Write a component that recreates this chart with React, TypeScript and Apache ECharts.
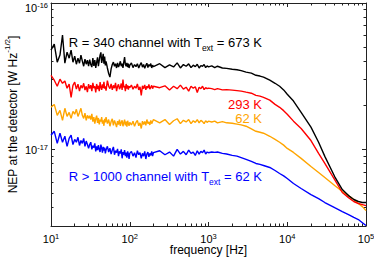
import React, { useEffect, useRef } from "react";
import * as echarts from "echarts";

// Frequency grid [Hz]
const FREQ = [
  10, 11, 12, 13, 14, 15, 16, 17, 18, 19, 20, 21, 22, 23, 24, 25, 26, 27, 28, 29, 30,
  31, 32, 33, 34, 35, 36, 37, 38, 39, 40, 41, 42, 43, 44, 45, 46, 47, 48, 49, 50,
  52, 54, 56, 58, 60, 62, 64, 66, 68, 70, 72, 74, 76, 78, 80, 82, 84, 86, 88, 90, 92, 94, 96, 98, 100,
  105, 110, 115, 120, 125, 130, 135, 140, 145, 150, 155, 160, 165, 170, 175, 180, 185, 190, 195, 200,
  240, 280, 320, 360, 400, 440, 480, 520, 560, 600, 640, 680, 720, 760, 800, 840, 880, 920, 960, 1000,
  1100, 1200, 1300, 1500, 1700, 2000, 2300, 2600, 3000, 3500, 4000, 4500, 5000, 6000, 7000, 8000, 9000, 10000,
  12000, 15000, 20000, 25000, 30000, 40000, 50000, 60000, 70000, 80000, 90000, 100000,
];

// NEP values in units of 1e-17 W Hz^-1/2
const NEP_R340_673K = [
  4.77, 5.24, 3.94, 4.41, 6.04, 3.88, 4.62, 4.2, 4.77, 3.94, 4.34, 3.82, 4.2, 3.88, 4.41, 4.01, 3.7, 4.14, 3.82, 4.07, 3.7,
  4.1, 3.8, 3.65, 4.2, 3.72, 4.07, 3.6, 3.95, 4.25, 3.7, 4.05, 4.4, 4.6, 3.9, 4.15, 4.5, 3.85, 4.3, 3.75, 4.0,
  3.6, 3.3, 3.12, 3.55, 3.8, 3.95, 3.7, 3.85, 3.6, 3.9, 3.65, 3.8, 4.0, 3.7, 3.85, 3.6, 3.95, 4.27, 3.8, 3.7, 3.9, 3.65, 3.85, 3.6, 3.75,
  3.9, 3.62, 3.8, 3.68, 3.85, 3.6, 3.78, 3.92, 3.65, 3.8, 3.58, 3.75, 3.88, 3.62, 3.8, 3.7, 3.86, 3.6, 3.76, 3.68,
  3.85, 3.62, 3.78, 3.66, 3.9, 3.6, 3.8, 3.7, 3.84, 3.62, 3.76, 3.68, 3.82, 3.6, 3.74, 3.7, 3.8, 3.62, 3.72, 3.66,
  3.72, 3.62, 3.7, 3.6, 3.58, 3.53, 3.5, 3.45, 3.37, 3.32, 3.21, 3.17, 3.12, 2.97, 2.83, 2.7, 2.55, 2.38,
  2.14, 1.79, 1.42, 1.12, 0.897, 0.653, 0.532, 0.484, 0.455, 0.441, 0.434, 0.434,
];
const NEP_R340_293K = [
  3.21, 2.97, 2.7, 3.02, 2.83, 2.93, 2.62, 2.79, 2.27, 2.74, 2.88, 2.58, 2.79, 2.5, 2.74, 2.62, 2.83, 2.54, 2.7, 2.46, 2.79,
  2.6, 2.75, 2.5, 2.85, 2.62, 2.7, 2.45, 2.8, 2.58, 2.72, 2.5, 2.88, 2.66, 2.55, 2.78, 2.62, 2.9, 2.6, 2.7, 2.52,
  2.95, 2.7, 2.6, 2.8, 2.55, 2.74, 2.62, 2.85, 2.5, 2.7, 2.78, 2.58, 2.66, 2.82, 2.55, 3.0, 2.65, 2.72, 2.5, 2.8, 2.6, 2.74, 2.56, 2.7, 2.64,
  2.75, 2.58, 2.7, 2.62, 2.8, 2.55, 2.68, 2.34, 2.72, 2.6, 2.76, 2.55, 2.7, 2.62, 2.78, 2.58, 2.66, 2.74, 2.6, 2.7,
  2.64, 2.72, 2.55, 2.7, 2.6, 2.75, 2.58, 2.66, 2.5, 2.7, 2.62, 2.68, 2.45, 2.66, 2.6, 2.7, 2.56, 2.64, 2.6, 2.62,
  2.6, 2.56, 2.6, 2.55, 2.56, 2.54, 2.52, 2.5, 2.46, 2.42, 2.34, 2.31, 2.27, 2.17, 2.03, 1.94, 1.84, 1.74,
  1.56, 1.39, 1.15, 0.94, 0.802, 0.623, 0.508, 0.469, 0.441, 0.427, 0.42, 0.413,
];
const NEP_R340_62K = [
  1.94, 2.03, 1.71, 1.85, 1.58, 1.91, 1.68, 1.79, 1.63, 1.82, 1.74, 1.88, 1.68, 1.79, 1.91, 1.71, 1.63, 1.77, 1.58, 1.71, 1.63,
  1.7, 1.6, 1.75, 1.55, 1.66, 1.5, 1.62, 1.7, 1.52, 1.64, 1.48, 1.6, 1.55, 1.66, 1.5, 1.58, 1.45, 1.62, 1.53, 1.66,
  1.5, 1.6, 1.44, 1.55, 1.62, 1.46, 1.58, 1.5, 1.42, 1.56, 1.48, 1.6, 1.45, 1.53, 1.58, 1.44, 1.52, 1.6, 1.46, 1.55, 1.43, 1.57, 1.5, 1.45, 1.53,
  1.47, 1.56, 1.44, 1.53, 1.58, 1.45, 1.52, 1.39, 1.56, 1.48, 1.55, 1.46, 1.6, 1.5, 1.54, 1.47, 1.58, 1.5, 1.55, 1.6,
  1.52, 1.6, 1.48, 1.57, 1.62, 1.5, 1.58, 1.54, 1.6, 1.5, 1.57, 1.53, 1.6, 1.52, 1.58, 1.55, 1.5, 1.57, 1.53, 1.56,
  1.54, 1.56, 1.52, 1.55, 1.52, 1.51, 1.49, 1.47, 1.44, 1.38, 1.33, 1.31, 1.29, 1.23, 1.17, 1.12, 1.07, 1.016,
  0.954, 0.869, 0.765, 0.696, 0.643, 0.567, 0.516, 0.484, 0.455, 0.427, 0.407, 0.382,
];
const NEP_R1000_62K = [
  1.25, 1.33, 1.1, 1.29, 1.12, 1.23, 1.05, 1.19, 1.25, 1.08, 1.17, 1.12, 1.21, 1.065, 1.15, 1.1, 1.19, 1.05, 1.14, 1.08, 1.016,
  1.08, 1.12, 1.0, 1.06, 1.03, 1.1, 0.97, 1.05, 0.99, 1.07, 1.0, 0.96, 1.08, 1.02, 0.95, 1.04, 0.98, 1.03, 0.94, 0.99,
  1.05, 0.96, 1.02, 0.93, 0.99, 1.04, 0.92, 0.98, 0.95, 1.01, 0.9, 0.97, 0.94, 1.0, 0.87, 0.96, 0.92, 0.99, 0.9, 0.95, 0.88, 0.97, 0.93, 0.86, 0.94,
  0.97, 0.9, 0.95, 0.88, 0.98, 0.92, 0.95, 0.87, 0.94, 0.9, 0.97, 0.86, 0.93, 0.96, 0.89, 0.94, 0.91, 0.97, 0.9, 0.95,
  0.98, 0.92, 0.96, 0.9, 1.0, 0.93, 0.97, 0.92, 0.99, 0.94, 0.96, 0.91, 0.98, 0.93, 0.97, 0.95, 0.99, 0.93, 0.96, 0.95,
  0.96, 0.955, 0.96, 0.94, 0.93, 0.911, 0.9, 0.88, 0.855, 0.828, 0.802, 0.79, 0.777, 0.753, 0.718, 0.685, 0.66, 0.633,
  0.585, 0.541, 0.492, 0.462, 0.434, 0.4, 0.376, 0.359, 0.343, 0.332, 0.316, 0.302,
];
const UNIT = 1e-17;
const NOISE_LEVEL = 1.31e-17;

const X_MAJOR = [10, 100, 1000, 10000, 100000];
const Y_MAJOR_LOW = [1e-17];
const Y_MAJOR_TOP = [1e-16];
const Y_MAJOR = [1e-17, 1e-16];
const MINOR_MULT = [2, 3, 4, 5, 6, 7, 8, 9];
const X_MIN = 10;
const X_MAX = 1e5;
const Y_MIN = 3e-18;
const Y_MAX = 1e-16;

const FONT = "Liberation Sans";

const X_MINOR: number[] = [];
[10, 100, 1000, 10000].forEach((d) => MINOR_MULT.forEach((m) => X_MINOR.push(m * d)));
const Y_MINOR: number[] = [];
[1e-18, 1e-17].forEach((d) => MINOR_MULT.forEach((m) => Y_MINOR.push(m * d)));

const supRich = {
  b: { fontSize: 11, lineHeight: 12, verticalAlign: "bottom", fontFamily: FONT, color: "#000" },
  s: { fontSize: 7.5, lineHeight: 4, verticalAlign: "top", fontFamily: FONT, color: "#000" },
  e: { fontSize: 4, lineHeight: 8, fontFamily: FONT, color: "rgba(0,0,0,0)" },
};
const powFmt = (v: number) => `{b|10}{s|${Math.round(Math.log10(v))}}`;
const powFmtTop = (v: number) => `{e| }\n{b|10}{s|${Math.round(Math.log10(v))}}`;

function annot(color: string, before: string, sub: string | null, after: string) {
  const rich: any = {
    n: { fontSize: 13, lineHeight: 17, verticalAlign: "top", fontFamily: FONT, fill: color, color },
    u: { fontSize: 8.5, lineHeight: 9, verticalAlign: "bottom", fontFamily: FONT, fill: color, color },
  };
  const text = sub ? `{n|${before}}{u|${sub}}{n|${after}}` : `{n|${before}}`;
  return { text, rich, fill: color };
}

export default function App() {
  const ref = useRef<HTMLDivElement>(null);
  useEffect(() => {
    const chart = echarts.init(ref.current!, null, { renderer: "svg" });
    const mk = (vals: number[]) => FREQ.map((f, i) => [f, vals[i] * UNIT]);
    const axisLine = { show: true, onZero: false, lineStyle: { color: "#222", width: 1 } };
    const xBase = { type: "log", logBase: 10, min: X_MIN, max: X_MAX, splitLine: { show: false } };
    const yBase = { type: "log", logBase: 10, min: Y_MIN, max: Y_MAX, splitLine: { show: false } };
    const majTick = (vals: number[]) => ({ show: true, inside: true, length: 4, customValues: vals, lineStyle: { color: "#222", width: 1 } });
    const minTick = (vals: number[]) => ({ show: true, inside: true, length: 2.5, customValues: vals, lineStyle: { color: "#222", width: 1 } });

    const option: any = {
      animation: false,
      backgroundColor: "#fff",
      grid: { left: 51, right: 8, top: 3, bottom: 32, containLabel: false, outerBoundsMode: "none" },
      xAxis: [
        {
          ...xBase,
          position: "bottom",
          axisLine,
          axisTick: majTick(X_MAJOR),
          axisLabel: { show: true, customValues: X_MAJOR, formatter: powFmt, rich: supRich, margin: 6 },
          name: "frequency [Hz]",
          nameLocation: "middle",
          nameGap: 18,
          nameMoveOverlap: false,
          nameTextStyle: { fontSize: 12, fontFamily: FONT, color: "#000" },
        },
        { ...xBase, position: "bottom", axisLine: { show: false }, axisTick: minTick(X_MINOR), axisLabel: { show: false } },
        { ...xBase, position: "top", axisLine, axisTick: majTick(X_MAJOR), axisLabel: { show: false } },
        { ...xBase, position: "top", axisLine: { show: false }, axisTick: minTick(X_MINOR), axisLabel: { show: false } },
      ],
      yAxis: [
        {
          ...yBase,
          position: "left",
          axisLine,
          axisTick: majTick(Y_MAJOR),
          axisLabel: { show: true, customValues: Y_MAJOR_LOW, formatter: powFmt, rich: supRich, margin: 3 },
          name: "{n|NEP at the detector [W Hz}{s|-1/2}{n|]}",
          nameLocation: "middle",
          nameGap: 32,
          nameMoveOverlap: false,
          nameTextStyle: {
            fontSize: 12,
            fontFamily: FONT,
            color: "#000",
            rich: {
              n: { fontSize: 12, lineHeight: 16, verticalAlign: "bottom", fontFamily: FONT, color: "#000" },
              s: { fontSize: 8, lineHeight: 8, verticalAlign: "top", fontFamily: FONT, color: "#000" },
            },
          },
        },
        {
          ...yBase,
          position: "left",
          axisLine: { show: false },
          axisTick: minTick(Y_MINOR),
          axisLabel: { show: true, customValues: Y_MAJOR_TOP, formatter: powFmtTop, rich: supRich, margin: 3 },
        },
        { ...yBase, position: "right", axisLine, axisTick: majTick(Y_MAJOR), axisLabel: { show: false } },
        { ...yBase, position: "right", axisLine: { show: false }, axisTick: minTick(Y_MINOR), axisLabel: { show: false } },
      ],
      series: [
        {
          name: "R>1000, 62 K",
          type: "line",
          data: mk(NEP_R1000_62K),
          showSymbol: false,
          lineStyle: { color: "#0000ff", width: 1.4 },
        },
        {
          name: "R=340, 62 K",
          type: "line",
          data: mk(NEP_R340_62K),
          showSymbol: false,
          lineStyle: { color: "#ffa500", width: 1.4 },
          markLine: {
            silent: true,
            symbol: "none",
            label: { show: false },
            lineStyle: { color: "#777", type: [1, 2], width: 1 },
            data: [{ yAxis: NOISE_LEVEL }],
          },
        },
        {
          name: "R=340, 293 K",
          type: "line",
          data: mk(NEP_R340_293K),
          showSymbol: false,
          lineStyle: { color: "#ff0000", width: 1.4 },
        },
        {
          name: "R=340, 673 K",
          type: "line",
          data: mk(NEP_R340_673K),
          showSymbol: false,
          lineStyle: { color: "#000000", width: 1.4 },
        },
      ],
      graphic: [
        { type: "text", x: 262, y: 44, style: { ...annot("#000", "R = 340 channel with T", "ext", " = 673 K"), align: "right", verticalAlign: "middle" } },
        { type: "text", x: 262, y: 106, style: { ...annot("#ff0000", "293 K", null, ""), align: "right", verticalAlign: "middle" } },
        { type: "text", x: 262, y: 120, style: { ...annot("#ffa500", "62 K", null, ""), align: "right", verticalAlign: "middle" } },
        { type: "text", x: 262, y: 178, style: { ...annot("#0000ff", "R > 1000 channel with T", "ext", " = 62 K"), align: "right", verticalAlign: "middle" } },
      ],
    };
    chart.setOption(option);
    return () => chart.dispose();
  }, []);
  return <div ref={ref} style={{ position: "fixed", left: 0, top: 0, width: 374, height: 258 }} />;
}
